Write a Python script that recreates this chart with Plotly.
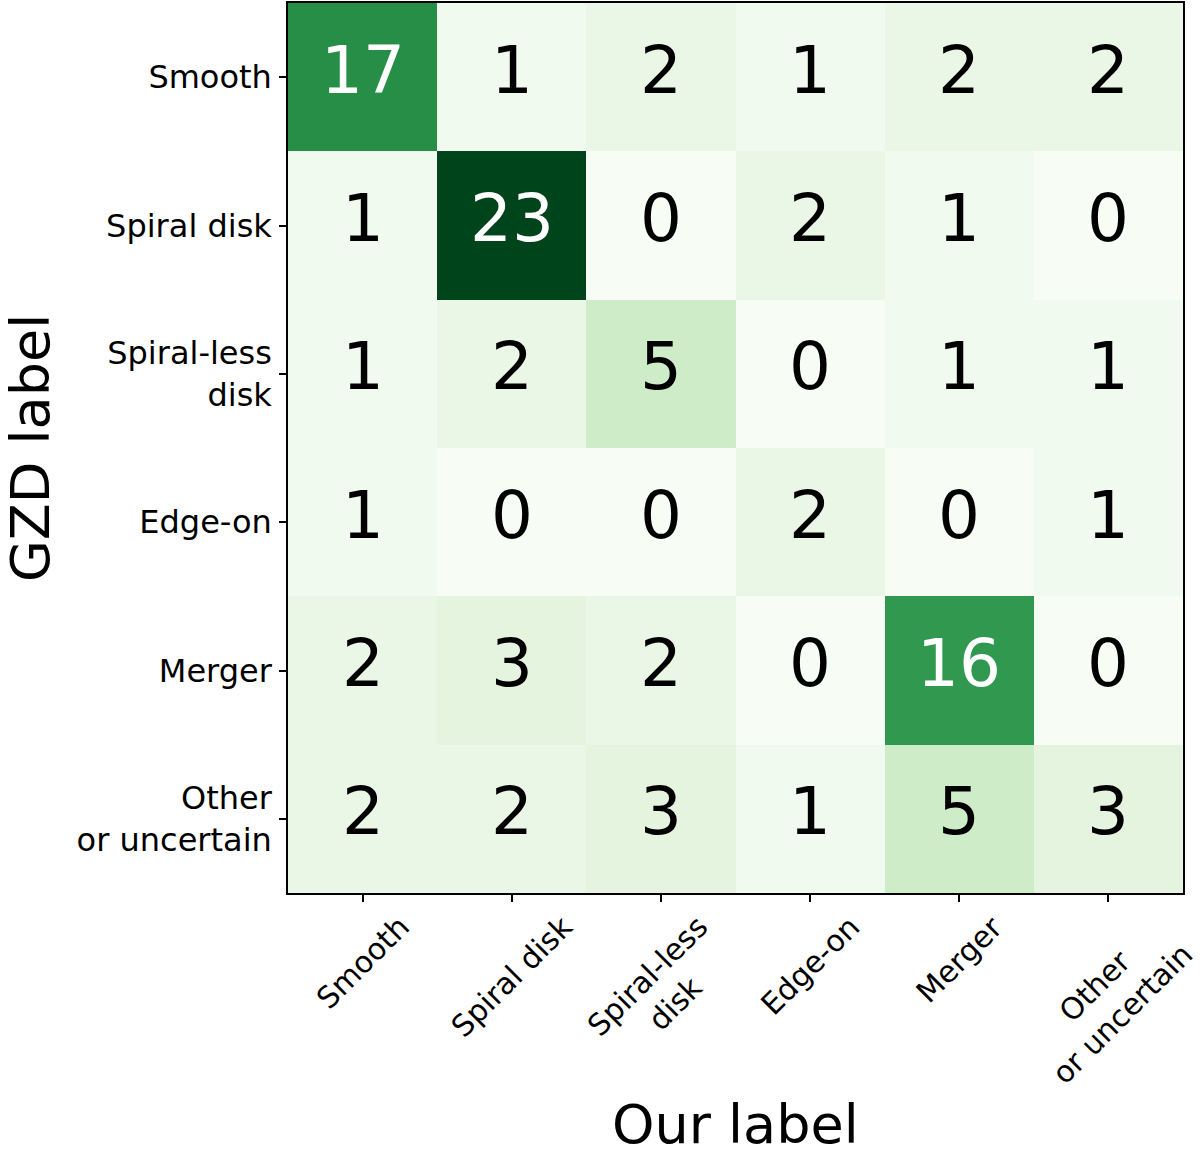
import plotly.graph_objects as go

our_labels = ["Smooth", "Spiral disk", "Spiral-less<br>disk", "Edge-on", "Merger", "Other<br>or uncertain"]
gzd_labels = ["Smooth", "Spiral disk", "Spiral-less<br>disk", "Edge-on", "Merger", "Other<br>or uncertain"]

row_smooth = [17, 1, 2, 1, 2, 2]
row_spiral = [1, 23, 0, 2, 1, 0]
row_spiralless = [1, 2, 5, 0, 1, 1]
row_edgeon = [1, 0, 0, 2, 0, 1]
row_merger = [2, 3, 2, 0, 16, 0]
row_other = [2, 2, 3, 1, 5, 3]

z = [row_smooth, row_spiral, row_spiralless, row_edgeon, row_merger, row_other]

greens = ["#f7fcf5", "#e5f5e0", "#c7e9c0", "#a1d99b", "#74c476",
          "#41ab5d", "#238b45", "#006d2c", "#00441b"]
colorscale = [[i / 8, c] for i, c in enumerate(greens)]

zmax = max(max(r) for r in z)
zmin = min(min(r) for r in z)
thresh = (zmax + zmin) / 2

FONT = "DejaVu Sans"

fig = go.Figure()
fig.add_trace(go.Heatmap(
    z=z, x=our_labels, y=gzd_labels, colorscale=colorscale,
    zmin=zmin, zmax=zmax, showscale=False, hoverinfo="skip",
))

for i, row in enumerate(z):
    for j, v in enumerate(row):
        fig.add_annotation(
            x=our_labels[j], y=gzd_labels[i], xref="x", yref="y",
            text=str(v), showarrow=False, xanchor="center", yanchor="middle",
            yshift=7,
            font=dict(family=FONT, size=66, color="white" if v > thresh else "black"),
        )

for lab in our_labels:
    fig.add_annotation(
        x=lab, xref="x", y=-0.015, yref="paper", text=lab,
        textangle=-45, xanchor="center", yanchor="top", showarrow=False,
        font=dict(family=FONT, size=30, color="black"), align="center",
    )

fig.add_annotation(
    x=0.5, xref="paper", y=-0.260, yref="paper", text="Our label",
    showarrow=False, xanchor="center", yanchor="middle",
    font=dict(family=FONT, size=54, color="black"),
)

fig.add_annotation(
    x=-0.2883, xref="paper", y=0.5, yref="paper", text="GZD label",
    textangle=-90, showarrow=False, xanchor="center", yanchor="middle",
    font=dict(family=FONT, size=54, color="black"),
)

fig.update_xaxes(
    range=[-0.5, 5.5],
    showticklabels=False, ticks="outside", ticklen=7, tickwidth=1.5, tickcolor="black",
    showline=True, linecolor="black", linewidth=1.5, mirror=True,
    showgrid=False, zeroline=False,
)
fig.update_yaxes(
    range=[5.5, -0.5], ticks="outside", ticklen=7, tickwidth=1.5, tickcolor="black",
    showline=True, linecolor="black", linewidth=1.5, mirror=True,
    showgrid=False, zeroline=False, ticklabelstandoff=1, automargin=False,
    tickfont=dict(family=FONT, size=32, color="black"),
)

fig.update_layout(
    width=1200, height=1157,
    margin=dict(l=288, r=17, t=1, b=264),
    plot_bgcolor="white", paper_bgcolor="white",
    font=dict(family=FONT),
    showlegend=False,
)

fig.write_html("out.html", config={"displayModeBar": False},
               post_script="document.body.style.margin='0px';")
